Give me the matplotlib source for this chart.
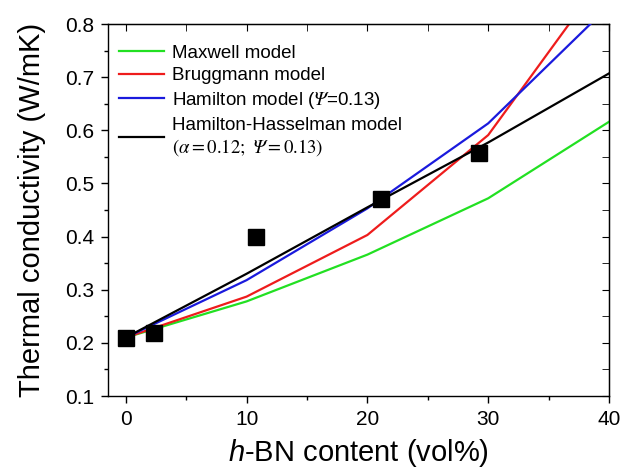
import matplotlib
matplotlib.use("Agg")
import matplotlib.pyplot as plt
from matplotlib.ticker import MultipleLocator, FormatStrFormatter

plt.rcParams["font.family"] = ["Liberation Sans", "DejaVu Sans"]
# Times-like italic greek in the legend, italic sans for the "h" in the x label
plt.rcParams["mathtext.fontset"] = "custom"
plt.rcParams["mathtext.rm"] = "STIXGeneral:italic"
plt.rcParams["mathtext.it"] = "STIXGeneral:italic"
plt.rcParams["mathtext.sf"] = "STIXGeneral"
plt.rcParams["mathtext.bf"] = "Liberation Sans:italic"

# model curves (vol% h-BN vs W/mK)
model_x = [0, 10, 20, 30, 40]
maxwell = [0.21, 0.278, 0.366, 0.472, 0.616]
bruggmann = [0.21, 0.287, 0.403, 0.591, 0.903]
hamilton = [0.21, 0.318, 0.453, 0.613, 0.834]
hasselman = [0.21, 0.330, 0.455, 0.577, 0.707]

# measured
exp_x = [0, 2.3, 10.8, 21.1, 29.2]
exp_y = [0.209, 0.219, 0.400, 0.470, 0.558]

fig = plt.figure(figsize=(6.23, 4.72), dpi=100)
ax = fig.add_axes([108 / 623, 1 - 396 / 472, (609 - 108) / 623, (396 - 24) / 472])

ax.plot(model_x, maxwell, color="#22e022", lw=1.6, label="Maxwell model", zorder=2)
ax.plot(model_x, bruggmann, color="#ee1c1c", lw=1.6, label="Bruggmann model", zorder=2)
ax.plot(model_x, hamilton, color="#1a1add", lw=1.6,
        label="Hamilton model (" + r"$Ψ$" + "=0.13)", zorder=3)
ax.plot(model_x, hasselman, color="black", lw=1.6,
        label="Hamilton-Hasselman model\n"
              + r"$\mathsf{(}α\mathsf{=0.12;\ }Ψ\mathsf{=0.13)}$",
        zorder=4)
ax.plot(exp_x, exp_y, "s", color="black", ms=11.5, ls="none", zorder=5,
        clip_on=False)

ax.set_xlim(-1.47, 40)
ax.set_ylim(0.1, 0.8)
ax.xaxis.set_major_locator(MultipleLocator(10))
ax.xaxis.set_minor_locator(MultipleLocator(5))
ax.yaxis.set_major_locator(MultipleLocator(0.1))
ax.yaxis.set_minor_locator(MultipleLocator(0.05))
ax.yaxis.set_major_formatter(FormatStrFormatter("%.1f"))

ax.tick_params(which="both", direction="out", labelsize=15, width=1, pad=5)
ax.tick_params(which="major", length=5)
ax.tick_params(which="minor", length=3)
# mirrored ticks pointing inward on top/right
sec_x = ax.secondary_xaxis("top")
sec_x.xaxis.set_major_locator(MultipleLocator(10))
sec_x.xaxis.set_minor_locator(MultipleLocator(5))
sec_x.tick_params(which="both", direction="in", labeltop=False, length=5)
sec_y = ax.secondary_yaxis("right")
sec_y.yaxis.set_major_locator(MultipleLocator(0.1))
sec_y.yaxis.set_minor_locator(MultipleLocator(0.05))
sec_y.tick_params(which="both", direction="in", labelright=False, length=5)
for s in ax.spines.values():
    s.set_linewidth(1.0)

ax.set_xlabel(r"$\mathbf{h}$-BN content (vol%)", fontsize=21, labelpad=6)
ax.set_ylabel("Thermal conductivity (W/mK)", fontsize=21, labelpad=14)

leg = ax.legend(loc="upper left", frameon=False, fontsize=13.5, handlelength=2.4,
                handletextpad=0.4, labelspacing=0.3, borderaxespad=0.2,
                bbox_to_anchor=(0.0, 0.975))

fig.savefig("out.png", dpi=100, facecolor="white")
